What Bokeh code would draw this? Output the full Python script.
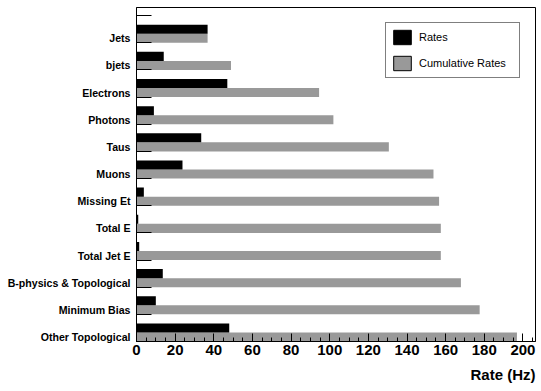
import numpy as np
from bokeh.plotting import figure
from bokeh.models import (ColumnDataSource, FixedTicker, SingleIntervalTicker,
                          Range1d, Title, Legend, LegendItem)
from bokeh.embed import file_html
from bokeh.resources import INLINE

# ---- data ----
categories = ["Jets", "bjets", "Electrons", "Photons", "Taus", "Muons",
              "Missing Et", "Total E", "Total Jet E",
              "B-physics & Topological", "Minimum Bias", "Other Topological"]
rates = [36.8, 14.1, 47.0, 9.0, 33.5, 23.8, 3.8, 0.9, 1.4, 13.6, 10.0, 48.0]
cumulative_rates = [36.8, 48.9, 94.5, 101.9, 130.6, 153.7, 156.6, 157.5,
                    157.5, 167.9, 177.6, 196.9]
series_names = ["Rates", "Cumulative Rates"]
x_label = "Rate (Hz)"

FONT = "Liberation Sans"
GRAY = "#999999"

n = len(categories)
pos = np.arange(n)[::-1].astype(float)          # Jets on top
bar_h = 1.0 / 3.0

src = ColumnDataSource(dict(cat=categories, pos=pos, rate=rates,
                            cum=cumulative_rates,
                            ypos_rate=pos + bar_h, ypos_cum=pos))

p = figure(width=541, height=391, output_backend="svg", toolbar_location=None,
           x_range=Range1d(0, 206.5), y_range=Range1d(-1/6, n - 1/6 + 0.3),
           min_border_left=136, min_border_right=6, min_border_top=7,
           min_border_bottom=50)
p.grid.visible = False
p.outline_line_color = "black"
p.outline_line_width = 1
p.background_fill_color = "white"
p.border_fill_color = "white"

r_cum = p.hbar(y="ypos_cum", right="cum", left=0, height=bar_h, source=src,
               fill_color=GRAY, line_color=None)
r_rate = p.hbar(y="ypos_rate", right="rate", left=0, height=bar_h, source=src,
                fill_color="black", line_color=None)

# legend swatches (with black borders, as in the reference); no visible data
dummy = ColumnDataSource(dict(y=[np.nan], r=[np.nan]))
l_rate = p.hbar(y="y", right="r", left=0, height=bar_h, source=dummy,
                fill_color="black", line_color="black")
l_cum = p.hbar(y="y", right="r", left=0, height=bar_h, source=dummy,
               fill_color=GRAY, line_color="black")
legend = Legend(items=[LegendItem(label=series_names[0], renderers=[l_rate]),
                       LegendItem(label=series_names[1], renderers=[l_cum])],
                location="top_right")
legend.margin = 15
legend.padding = 5
legend.spacing = 8
legend.glyph_width = 22
legend.glyph_height = 18
legend.label_standoff = 6
legend.label_width = 95
legend.label_text_font = FONT
legend.label_text_font_size = "11px"
legend.label_text_color = "black"
legend.border_line_color = "black"
legend.border_line_width = 1
legend.background_fill_alpha = 1
p.add_layout(legend)

# y axis: labels centered on grey bars, short inward ticks at bin edges
yax = p.yaxis[0]
yax.ticker = FixedTicker(ticks=list(pos), minor_ticks=list(np.arange(n + 1) - 1/6))
yax.major_label_overrides = {int(k): c for k, c in zip(pos, categories)}
yax.major_tick_in = 0
yax.major_tick_out = 0
yax.minor_tick_in = 15
yax.minor_tick_out = 0
yax.minor_tick_line_color = "black"
yax.axis_line_color = "black"
yax.major_label_text_font = FONT
yax.major_label_text_font_style = "bold"
yax.major_label_text_font_size = "10.6px"
yax.major_label_text_color = "black"
yax.major_label_standoff = 6

# x axis
xax = p.xaxis[0]
xax.ticker = SingleIntervalTicker(interval=20, num_minor_ticks=4)
xax.major_tick_in = 8
xax.major_tick_out = 0
xax.minor_tick_in = 4
xax.minor_tick_out = 0
xax.major_tick_line_color = "black"
xax.minor_tick_line_color = "black"
xax.axis_line_color = "black"
xax.major_label_text_font = FONT
xax.major_label_text_font_style = "bold"
xax.major_label_text_font_size = "15px"
xax.major_label_text_color = "black"
xax.major_label_standoff = 3

p.add_layout(Title(text=x_label, align="right", text_font=FONT,
                   text_font_style="bold", text_font_size="15px",
                   text_color="black", standoff=13, offset=0), "below")

open("out.html", "w").write(file_html(p, INLINE))
